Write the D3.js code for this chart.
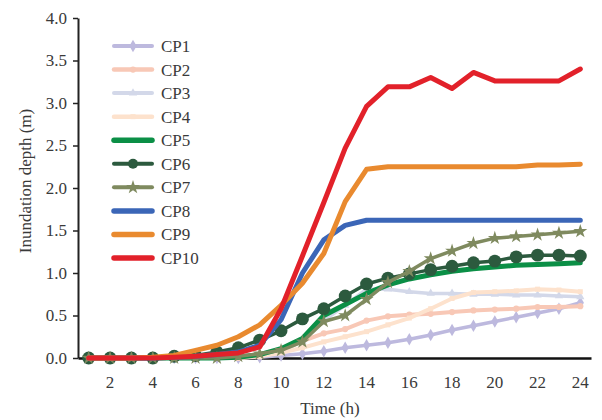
<!DOCTYPE html>
<html>
<head>
<meta charset="utf-8">
<script src="https://cdn.jsdelivr.net/npm/d3@7"></script>
<style>
  body { margin: 0; background: #fff; }
  svg text { font-family: "Liberation Serif", "Times New Roman", serif; fill: #3a3a3a; }
</style>
</head>
<body>
<div id="chart"></div>
<script>
var width = 602;
var height = 420;

// hours on the x axis
var hours = [1, 2, 3, 4, 5, 6, 7, 8, 9, 10, 11, 12, 13, 14, 15, 16, 17, 18, 19, 20, 21, 22, 23, 24];
var xTickLabels = [2, 4, 6, 8, 10, 12, 14, 16, 18, 20, 22, 24];
var yTicks = [0, 0.5, 1, 1.5, 2, 2.5, 3, 3.5, 4];

var seriesNames = ["CP1", "CP2", "CP3", "CP4", "CP5", "CP6", "CP7", "CP8", "CP9", "CP10"];

var cp1 = [0, 0, 0, 0, 0, 0, 0, 0, 0.01, 0.03, 0.05, 0.08, 0.12, 0.15, 0.18, 0.22, 0.27, 0.33, 0.38, 0.43, 0.48, 0.53, 0.58, 0.65];
var cp2 = [0, 0, 0, 0, 0, 0, 0, 0, 0.02, 0.08, 0.2, 0.29, 0.34, 0.44, 0.49, 0.51, 0.52, 0.54, 0.56, 0.57, 0.58, 0.6, 0.6, 0.61];
var cp3 = [0, 0, 0, 0, 0, 0, 0, 0.01, 0.03, 0.08, 0.2, 0.44, 0.62, 0.81, 0.81, 0.78, 0.76, 0.76, 0.75, 0.75, 0.74, 0.74, 0.73, 0.72];
var cp4 = [0, 0, 0, 0, 0, 0, 0, 0, 0.02, 0.06, 0.12, 0.19, 0.25, 0.31, 0.39, 0.47, 0.58, 0.7, 0.77, 0.78, 0.79, 0.81, 0.8, 0.78];
var cp5 = [0, 0, 0, 0, 0, 0, 0, 0.01, 0.04, 0.11, 0.23, 0.5, 0.63, 0.76, 0.86, 0.93, 0.98, 1.02, 1.05, 1.07, 1.09, 1.1, 1.11, 1.12];
var cp6 = [0, 0, 0, 0, 0.02, 0.03, 0.07, 0.12, 0.21, 0.32, 0.46, 0.58, 0.73, 0.87, 0.94, 0.99, 1.04, 1.08, 1.12, 1.14, 1.19, 1.21, 1.21, 1.2];
var cp7 = [0, 0, 0, 0, 0, 0, 0, 0.02, 0.05, 0.09, 0.19, 0.43, 0.5, 0.69, 0.89, 1.02, 1.17, 1.26, 1.35, 1.41, 1.43, 1.45, 1.47, 1.49];
var cp8 = [0, 0, 0, 0, 0.01, 0.02, 0.04, 0.07, 0.15, 0.45, 1.0, 1.39, 1.56, 1.62, 1.62, 1.62, 1.62, 1.62, 1.62, 1.62, 1.62, 1.62, 1.62, 1.62];
var cp9 = [0, 0, 0, 0.01, 0.03, 0.09, 0.15, 0.25, 0.39, 0.62, 0.88, 1.23, 1.84, 2.22, 2.25, 2.25, 2.25, 2.25, 2.25, 2.25, 2.25, 2.27, 2.27, 2.28];
var cp10 = [0, 0, 0, 0, 0.01, 0.02, 0.04, 0.06, 0.13, 0.58, 1.2, 1.83, 2.47, 2.96, 3.19, 3.19, 3.3, 3.17, 3.36, 3.26, 3.26, 3.26, 3.26, 3.4];

var seriesValues = [cp1, cp2, cp3, cp4, cp5, cp6, cp7, cp8, cp9, cp10];

// look of every series
var styles = [
    { color: "#bdb9de", width: 3.5, marker: d3.symbolDiamond, size: 45 },
    { color: "#f8c8b6", width: 4,   marker: d3.symbolCircle,  size: 30 },
    { color: "#d3d8e9", width: 3.5, marker: d3.symbolTriangle, size: 30 },
    { color: "#fde2cd", width: 4,   marker: d3.symbolSquare,  size: 25 },
    { color: "#0b8f46", width: 5,   marker: null },
    { color: "#2c5a3e", width: 3.5, marker: d3.symbolCircle,  size: 130 },
    { color: "#7f8a5f", width: 3.5, marker: d3.symbolStar,    size: 60 },
    { color: "#3b66b7", width: 5,   marker: null },
    { color: "#e98a2f", width: 5,   marker: null },
    { color: "#e2212a", width: 5,   marker: null }
];

var svg = d3.select("#chart").append("svg")
    .attr("width", width)
    .attr("height", height);

var x = d3.scaleBand()
    .domain(hours)
    .range([78, 591]);

var y = d3.scaleLinear()
    .domain([0, 4])
    .range([358, 18]);

function xc(h) { return x(h) + x.bandwidth() / 2; }

// y axis
var yAxis = svg.append("g")
    .attr("transform", "translate(78,0)")
    .call(d3.axisLeft(y).tickValues(yTicks).tickFormat(d3.format(".1f")).tickSize(5).tickSizeOuter(0).tickPadding(6));
yAxis.select(".domain").attr("stroke", "#222").attr("stroke-width", 2);
yAxis.selectAll(".tick line").attr("stroke", "#222").attr("stroke-width", 1.5);
yAxis.selectAll("text").style("font-size", "17px").attr("fill", "#3a3a3a");

// x axis
var xAxis = svg.append("g")
    .attr("transform", "translate(0,358)")
    .call(d3.axisBottom(x).tickValues(xTickLabels).tickSize(0).tickSizeOuter(0).tickPadding(18));
xAxis.select(".domain").attr("stroke", "#111").attr("stroke-width", 2.5);
xAxis.selectAll("text").style("font-size", "17px").attr("fill", "#3a3a3a");

svg.append("text")
    .attr("x", 330)
    .attr("y", 414)
    .attr("text-anchor", "middle")
    .style("font-size", "17px")
    .text("Time (h)");

svg.append("text")
    .attr("transform", "translate(31,181) rotate(-90)")
    .attr("text-anchor", "middle")
    .style("font-size", "17px")
    .text("Inundation depth (m)");

var line = d3.line()
    .x(function(d, i) { return xc(hours[i]); })
    .y(function(d) { return y(d); });

seriesValues.forEach(function(vals, k) {
    var st = styles[k];
    var g = svg.append("g").attr("class", "series-" + seriesNames[k]);
    g.append("path")
        .datum(vals)
        .attr("d", line)
        .attr("fill", "none")
        .attr("stroke", st.color)
        .attr("stroke-width", st.width)
        .attr("stroke-linejoin", "round")
        .attr("stroke-linecap", "round");
    if (st.marker) {
        g.selectAll("path.m")
            .data(vals)
            .enter().append("path")
            .attr("class", "m")
            .attr("d", d3.symbol().type(st.marker).size(st.size))
            .attr("transform", function(d, i) { return "translate(" + xc(hours[i]) + "," + y(d) + ")"; })
            .attr("fill", st.color);
    }
});

// legend
var legend = svg.append("g").attr("class", "legend");
var legendY = d3.scalePoint().domain(seriesNames).range([46, 258]);

seriesNames.forEach(function(name, k) {
    var st = styles[k];
    var ly = legendY(name);
    legend.append("line")
        .attr("x1", 114).attr("x2", 152)
        .attr("y1", ly).attr("y2", ly)
        .attr("stroke", st.color)
        .attr("stroke-width", st.width + 0.5)
        .attr("stroke-linecap", "round");
    if (st.marker) {
        legend.append("path")
            .attr("d", d3.symbol().type(st.marker).size(Math.min(st.size, 80)))
            .attr("transform", "translate(133," + ly + ")")
            .attr("fill", st.color);
    }
    legend.append("text")
        .attr("x", 161)
        .attr("y", ly)
        .attr("dy", "0.35em")
        .style("font-size", "17px")
        .text(name);
});
</script>
</body>
</html>
